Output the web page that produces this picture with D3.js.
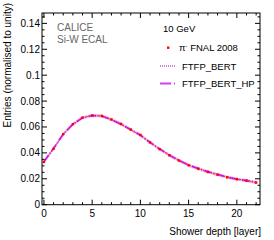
<!DOCTYPE html>
<html>
<head>
<meta charset="utf-8">
<script src="https://cdn.jsdelivr.net/npm/d3@7"></script>
<style>
  body { margin: 0; background: #fff; }
  text { font-family: "Liberation Sans", Arial, sans-serif; }
</style>
</head>
<body>
<svg id="chart"></svg>
<script>
// layer number and the normalised entries
const layers = d3.range(0, 23);
const dataVals = [0.0330, 0.0432, 0.0545, 0.0622, 0.0672, 0.0688, 0.0685, 0.0658, 0.0623, 0.0580,
  0.0538, 0.0481, 0.0429, 0.0382, 0.0341, 0.0305, 0.0278, 0.0253, 0.0232, 0.0212, 0.0197, 0.0186, 0.0171];
const bertVals = [0.0332, 0.0434, 0.0543, 0.0620, 0.0670, 0.0690, 0.0684, 0.0656, 0.0620, 0.0578,
  0.0536, 0.0480, 0.0430, 0.0383, 0.0342, 0.0306, 0.0279, 0.0254, 0.0233, 0.0213, 0.0198, 0.0186, 0.0172];
const hpVals = [0.0333, 0.0435, 0.0544, 0.0621, 0.0671, 0.0689, 0.0685, 0.0657, 0.0621, 0.0579,
  0.0537, 0.0481, 0.0430, 0.0383, 0.0342, 0.0306, 0.0279, 0.0254, 0.0233, 0.0213, 0.0197, 0.0186, 0.0172];
const errVals = 0.0013; // systematic band half-width
const xTicks = [0, 5, 10, 15, 20];
const yTicks = [0, 0.02, 0.04, 0.06, 0.08, 0.1, 0.12, 0.14];
const yTickLabels = ["0", "0.02", "0.04", "0.06", "0.08", "0.1", "0.12", "0.14"];

const W = 274, H = 240;
const fLeft = 42, fRight = 260, fTop = 13, fBottom = 204.7;

const svg = d3.select("#chart").attr("width", W).attr("height", H);

const x = d3.scaleLinear().domain([-0.2, 22.4]).range([fLeft, fRight]);
const y = d3.scaleLinear().domain([0, 0.148]).range([fBottom, fTop]);

// data band + points
const band = d3.area()
  .x((d, i) => x(layers[i]))
  .y0(d => y(d - errVals))
  .y1(d => y(d + errVals));
svg.append("path").datum(dataVals)
  .attr("d", band)
  .attr("fill", "#ffa0a0")
  .attr("opacity", 0.6);

const line = vals => d3.line().x((d, i) => x(layers[i])).y(d => y(d))(vals);

svg.append("path")
  .attr("d", line(hpVals))
  .attr("fill", "none")
  .attr("stroke", "#d838f8")
  .attr("stroke-width", 2)
  .attr("stroke-dasharray", "8,2,1,2");

svg.append("path")
  .attr("d", line(bertVals))
  .attr("fill", "none")
  .attr("stroke", "#9a00b8")
  .attr("stroke-width", 1)
  .attr("stroke-dasharray", "1,1");

svg.selectAll(".pt").data(dataVals).enter().append("rect")
  .attr("class", "pt")
  .attr("x", (d, i) => x(layers[i]) - 1.2)
  .attr("y", d => y(d) - 1.2)
  .attr("width", 2.4)
  .attr("height", 2.4)
  .attr("fill", "#ff0000");

// frame
svg.append("rect")
  .attr("x", fLeft).attr("y", fTop)
  .attr("width", fRight - fLeft).attr("height", fBottom - fTop)
  .attr("fill", "none").attr("stroke", "#000").attr("stroke-width", 1);

// ticks, ROOT style (inside, all four sides)
const xMinor = d3.range(0, 23, 1);
const yMinor = d3.range(0, 0.1481, 0.005);
const tk = svg.append("g").attr("stroke", "#000").attr("stroke-width", 1);
xMinor.forEach(v => {
  const len = v % 5 === 0 ? 5 : 2.5;
  tk.append("line").attr("x1", x(v)).attr("x2", x(v)).attr("y1", fBottom).attr("y2", fBottom - len);
  tk.append("line").attr("x1", x(v)).attr("x2", x(v)).attr("y1", fTop).attr("y2", fTop + len);
});
yMinor.forEach(v => {
  const major = Math.abs(v / 0.02 - Math.round(v / 0.02)) < 1e-6;
  const len = major ? 5 : 2.5;
  tk.append("line").attr("y1", y(v)).attr("y2", y(v)).attr("x1", fLeft).attr("x2", fLeft + len);
  tk.append("line").attr("y1", y(v)).attr("y2", y(v)).attr("x1", fRight).attr("x2", fRight - len);
});

// tick labels
svg.selectAll(".xl").data(xTicks).enter().append("text")
  .attr("x", d => x(d)).attr("y", 217)
  .attr("text-anchor", "middle").attr("font-size", 10)
  .text(d => d);
svg.selectAll(".yl").data(yTicks).enter().append("text")
  .attr("x", 40).attr("y", d => y(d) + 3.5)
  .attr("text-anchor", "end").attr("font-size", 10)
  .text((d, i) => yTickLabels[i]);

// axis titles
svg.append("text")
  .attr("x", 261).attr("y", 235)
  .attr("text-anchor", "end").attr("font-size", 10)
  .text("Shower depth [layer]");
svg.append("text")
  .attr("transform", "translate(11,3) rotate(-90)")
  .attr("text-anchor", "end").attr("font-size", 10)
  .text("Entries (normalised to unity)");

// CALICE label
svg.append("text").attr("x", 57).attr("y", 31).attr("font-size", 10).attr("fill", "#666").text("CALICE");
svg.append("text").attr("x", 57).attr("y", 43).attr("font-size", 10).attr("fill", "#666").text("Si-W ECAL");

// legend
svg.append("text").attr("x", 163).attr("y", 32).attr("font-size", 9.5).text("10 GeV");
svg.append("rect").attr("x", 167).attr("y", 46.5).attr("width", 2.4).attr("height", 2.4).attr("fill", "#ff0000");
const piText = svg.append("text").attr("x", 179).attr("y", 51).attr("font-size", 9.5);
piText.append("tspan").text("\u03c0");
piText.append("tspan").attr("dy", -3).attr("font-size", 6).text("-");
piText.append("tspan").attr("dy", 3).text(" FNAL 2008");

svg.append("line").attr("x1", 160).attr("x2", 175).attr("y1", 66).attr("y2", 66)
  .attr("stroke", "#9a00b8").attr("stroke-width", 1).attr("stroke-dasharray", "1,1");
svg.append("text").attr("x", 182).attr("y", 69.5).attr("font-size", 9.5).text("FTFP_BERT");

svg.append("line").attr("x1", 160).attr("x2", 177).attr("y1", 83.5).attr("y2", 83.5)
  .attr("stroke", "#d838f8").attr("stroke-width", 2).attr("stroke-dasharray", "11,3,1,3");
svg.append("text").attr("x", 182).attr("y", 87).attr("font-size", 9.5).text("FTFP_BERT_HP");
</script>
</body>
</html>
